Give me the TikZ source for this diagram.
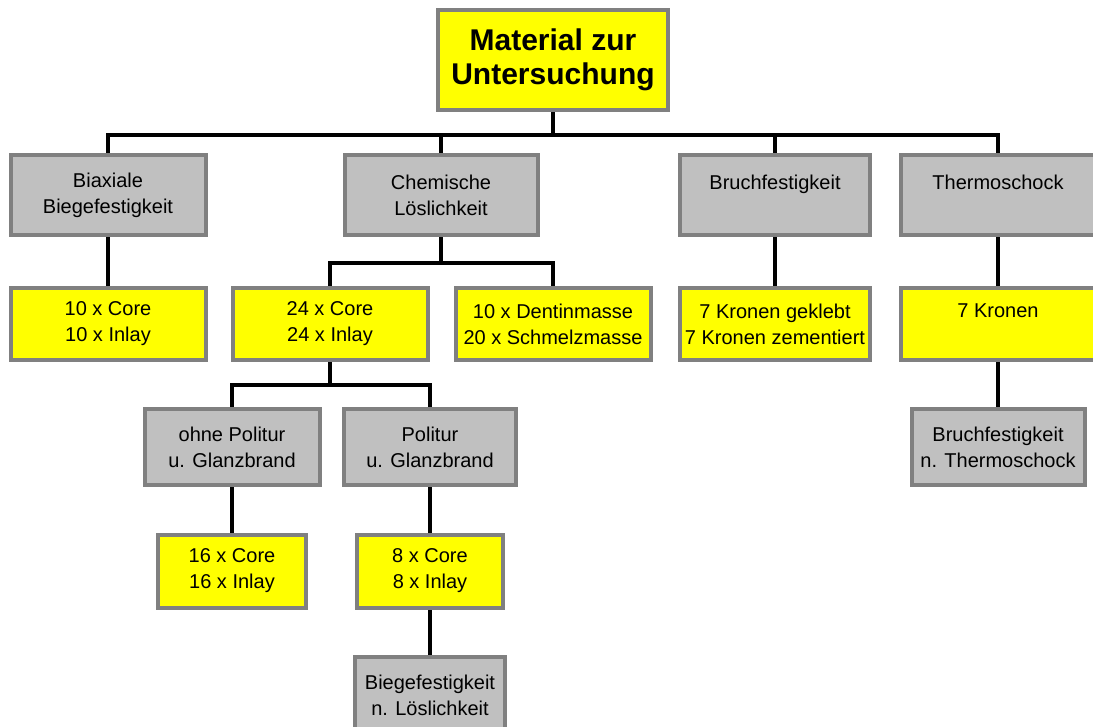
\documentclass[tikz,border=0pt]{standalone}
\usepackage{fontspec}
\setmainfont{Liberation Sans}
\usetikzlibrary{backgrounds}
\definecolor{boxgray}{HTML}{C0C0C0}
\definecolor{edgegray}{HTML}{808080}
\definecolor{boxyellow}{HTML}{FFFF00}

\begin{document}
\begin{tikzpicture}[
  x=1pt, y=-1pt,
  box/.style={draw=edgegray, line width=4pt, align=center, inner sep=0pt,
    font=\fontsize{20}{26}\selectfont},
  graybox/.style={box, fill=boxgray},
  yellowbox/.style={box, fill=boxyellow},
  conn/.style={draw=black, line width=4pt},
]
  \clip (0,0) rectangle (1093,727);

  % Wurzel
  \node[yellowbox, minimum width=230pt, minimum height=100pt,
    font=\fontsize{30}{34}\selectfont\bfseries] (mat) at (553,60)
    {Material zur\\Untersuchung};

  % Ebene 1 -- Pruefungen
  \node[graybox, minimum width=195pt, minimum height=80pt] (biax) at (108,195)
    {Biaxiale\\Biegefestigkeit};
  \node[graybox, minimum width=193pt, minimum height=80pt] (chem) at (441,195)
    {Chemische\\Löslichkeit};
  \node[graybox, minimum width=190pt, minimum height=80pt] (bruch) at (775,195)
    {Bruchfestigkeit\\\mbox{}};
  \node[graybox, minimum width=195pt, minimum height=80pt] (therm) at (998,195)
    {Thermoschock\\\mbox{}};

  % Ebene 2 -- Probenanzahl
  \node[yellowbox, minimum width=195pt, minimum height=72pt] (core10) at (108,324)
    {10 x Core\\10 x Inlay};
  \node[yellowbox, minimum width=195pt, minimum height=72pt] (core24) at (330,324)
    {24 x Core\\24 x Inlay};
  \node[yellowbox, minimum width=195pt, minimum height=72pt] (dentin) at (553,324)
    {10 x Dentinmasse\\20 x Schmelzmasse};
  \node[yellowbox, minimum width=190pt, minimum height=72pt] (kronen) at (775,324)
    {7 Kronen geklebt\\7 Kronen zementiert};
  \node[yellowbox, minimum width=195pt, minimum height=72pt] (kronen7) at (998,324)
    {7 Kronen\\\mbox{}};

  % Ebene 3
  \node[graybox, minimum width=175pt, minimum height=75pt] (ohne) at (232,447)
    {ohne Politur\\u. Glanzbrand};
  \node[graybox, minimum width=172pt, minimum height=75pt] (politur) at (430,447)
    {Politur\\u. Glanzbrand};
  \node[graybox, minimum width=173pt, minimum height=75pt] (thermbr) at (998,447)
    {Bruchfestigkeit\\n. Thermoschock};

  % Ebene 4
  \node[yellowbox, minimum width=148pt, minimum height=73pt] (core16) at (232,571)
    {16 x Core\\16 x Inlay};
  \node[yellowbox, minimum width=146pt, minimum height=73pt] (core8) at (430,571)
    {8 x Core\\8 x Inlay};

  % Ebene 5
  \node[graybox, minimum width=150pt, minimum height=76pt] (biegel) at (430,695)
    {Biegefestigkeit\\n. Löslichkeit};

  % Verbindungen
  \coordinate (bus) at (553,135);
  \coordinate (chembus) at (441,263);
  \coordinate (corebus) at (330,385);
  \begin{pgfonlayer}{background}
    \draw[conn] (mat) -- (bus);
    \foreach \n in {biax, chem, bruch, therm}
      \draw[conn] (\n) |- (bus);
    \draw[conn] (chem) -- (chembus);
    \draw[conn] (core24) |- (chembus);
    \draw[conn] (dentin) |- (chembus);
    \draw[conn] (core24) -- (corebus);
    \draw[conn] (ohne) |- (corebus);
    \draw[conn] (politur) |- (corebus);
    \draw[conn] (biax) -- (core10);
    \draw[conn] (bruch) -- (kronen);
    \draw[conn] (therm) -- (kronen7);
    \draw[conn] (kronen7) -- (thermbr);
    \draw[conn] (ohne) -- (core16);
    \draw[conn] (politur) -- (core8);
    \draw[conn] (core8) -- (biegel);
  \end{pgfonlayer}
\end{tikzpicture}
\end{document}
